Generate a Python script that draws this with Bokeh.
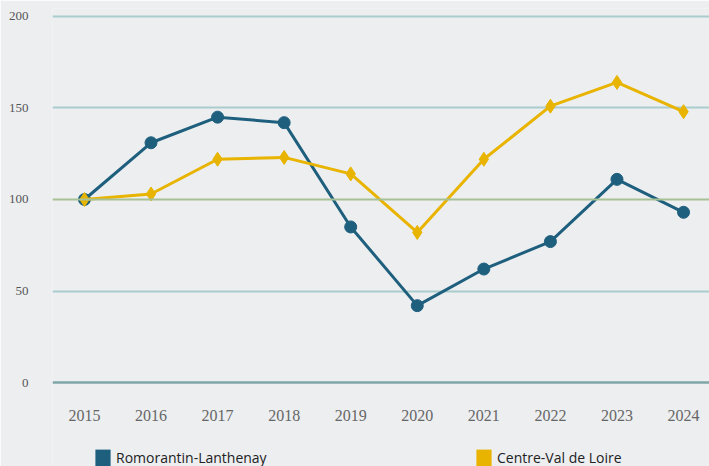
from bokeh.plotting import figure
from bokeh.models import Range1d, Span, Legend, LegendItem, FixedTicker
from bokeh.core.properties import value
from bokeh.embed import file_html
from bokeh.resources import INLINE

years = [2015, 2016, 2017, 2018, 2019, 2020, 2021, 2022, 2023, 2024]
year_labels = [str(y) for y in years]
romorantin = [100, 131, 145, 142, 85, 42, 62, 77, 111, 93]
centre = [100, 103, 122, 123, 114, 82, 122, 151, 164, 148]
y_ticks = [0, 50, 100, 150, 200]
x_label_level = -18

BG = "#eceef0"
BLUE = "#1f5f7e"
GOLD = "#e8b400"
NAN = float("nan")

p = figure(width=709, height=466, output_backend="svg", toolbar_location=None,
           x_range=Range1d(2014.52, 2024.39), y_range=Range1d(-45.9, 204.37),
           min_border_left=52, min_border_right=0, min_border_top=8, min_border_bottom=0,
           background_fill_color=BG, border_fill_color=BG, outline_line_color=None)

p.xaxis.visible = False
p.xgrid.visible = False
p.ygrid.ticker = FixedTicker(ticks=[50, 150, 200])
p.ygrid.grid_line_color = "#a9cccc"
p.ygrid.grid_line_width = 2

p.add_layout(Span(location=100, dimension="width", line_color="#a7c196", line_width=2))
p.add_layout(Span(location=0, dimension="width", line_color="#7fa5a8", line_width=2.5))

ax = p.yaxis
ax.axis_line_color = None
ax.major_tick_line_color = None
ax.minor_tick_line_color = None
ax.major_label_text_font = "Liberation Serif"
ax.major_label_text_font_size = "13px"
ax.major_label_text_color = "#555555"
ax.ticker = FixedTicker(ticks=y_ticks)
ax.major_label_standoff = 18

# x tick labels (years)
p.text(x=years, y=[x_label_level] * len(years), text=year_labels,
       text_font=value("Liberation Serif"), text_font_size="16px",
       text_color="#666666", text_align="center", text_baseline="middle")

p.line(years, romorantin, line_color=BLUE, line_width=3)
p.scatter(years, romorantin, marker="circle", size=12, fill_color=BLUE, line_color=BLUE)
p.line(years, centre, line_color=GOLD, line_width=3)
p.scatter(years, centre, marker="diamond", size=14, fill_color=GOLD, line_color=GOLD)

# legend-only swatches (NaN data, nothing drawn in the plot area)
sq1 = p.quad(left=[NAN], right=[NAN], top=[NAN], bottom=[NAN], fill_color=BLUE, line_color=None)
sq2 = p.quad(left=[NAN], right=[NAN], top=[NAN], bottom=[NAN], fill_color=GOLD, line_color=None)

legend = Legend(items=[LegendItem(label="Romorantin-Lanthenay", renderers=[sq1]),
                       LegendItem(label="Centre-Val de Loire", renderers=[sq2])],
                location=(41, -2), orientation="horizontal",
                background_fill_alpha=0, border_line_color=None,
                padding=0, margin=0, spacing=0, glyph_width=19, glyph_height=21,
                label_standoff=4, label_width=358, label_height=21,
                label_text_font="Open Sans", label_text_font_size="14px",
                label_text_color="#222222")
p.add_layout(legend, "center")

open("out.html", "w").write(file_html(p, INLINE))
